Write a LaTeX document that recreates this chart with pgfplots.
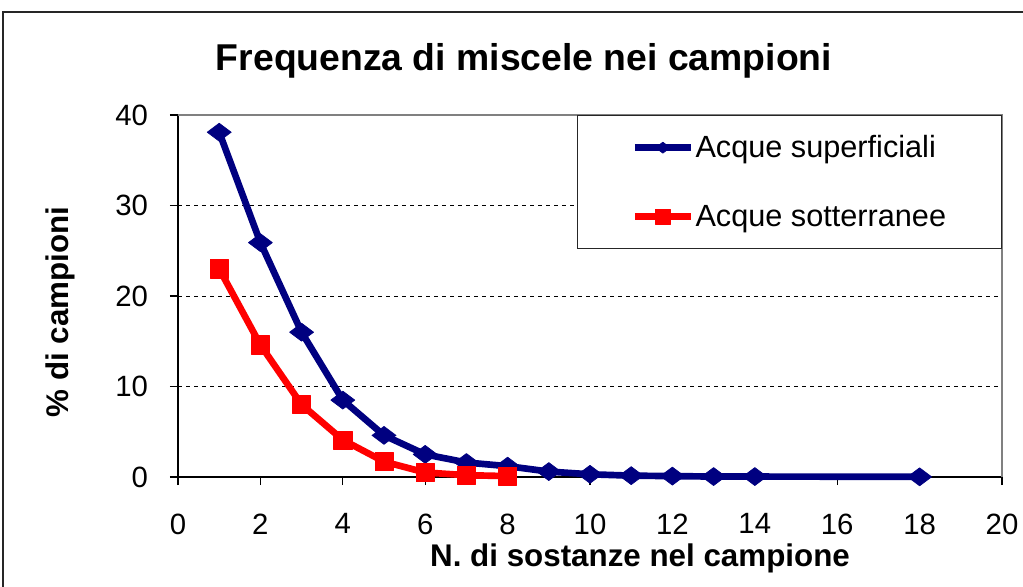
\documentclass[border=0pt]{standalone}
\usepackage{fontspec}
\setmainfont{Liberation Sans}
\usepackage{pgfplots}
\pgfplotsset{compat=1.18}
\definecolor{acqsup}{RGB}{0,0,128}
\definecolor{acqsot}{RGB}{255,0,0}
\begin{document}
\begin{tikzpicture}
% page = 1023 x 586 px at 0.75pt per px
\path[use as bounding box] (0,0) rectangle (767.25pt,-439.5pt);
\draw[line width=1pt,black!85] (3*0.75pt,-600*0.75pt) -- (3*0.75pt,-12*0.75pt) -- (1030*0.75pt,-12*0.75pt);
\node[font=\fontsize{28}{32}\selectfont\bfseries] at (524*0.75pt,-61*0.75pt) {Frequenza di miscele nei campioni};
\begin{axis}[
  at={(133.5pt,-357.75pt)}, anchor=south west,
  scale only axis, width=618pt, height=271.5pt,
  xmin=0, xmax=20, ymin=0, ymax=40,
  xtick={0,2,...,20}, ytick={0,10,...,40},
  axis lines*=left, axis line style={-, line width=0.8pt, black},
  tick align=outside, major tick length=6pt,
  tick style={black, line width=0.8pt},
  ticklabel style={font=\fontsize{22}{26}\selectfont},
  xticklabel style={yshift=-18pt},
  yticklabel style={xshift=-13pt},
  /pgf/number format/assume math mode=true,
  extra y ticks={10,20,30}, extra y tick labels={},
  extra y tick style={grid=major, major tick length=0pt},
  grid style={dashed, black, line width=0.7pt},
  xlabel={N. di sostanze nel campione},
  ylabel={\% di campioni},
  label style={font=\fontsize{23.5}{27}\selectfont\bfseries},
  xlabel style={at={(axis description cs:0.5607,-0.225)}, anchor=center},
  ylabel style={at={(axis description cs:-0.1432,0.456)}, anchor=center},
  legend style={at={(rel axis cs:1,1)}, anchor=north east, draw=black!85, line width=0.8pt,
    font=\fontsize{23}{27}\selectfont, inner xsep=40.5pt, inner ysep=15pt,
    nodes={inner xsep=1pt, inner ysep=0pt}, row sep=34pt},
  legend cell align=left,
  legend image code/.code={\draw[mark repeat=2,mark phase=2,#1,mark size=5.5pt] plot coordinates {(0pt,0pt) (21pt,0pt) (42pt,0pt)};},
  clip=false,
]
\draw[gray, line width=0.8pt] (rel axis cs:0,1) -- (rel axis cs:1,1) -- (rel axis cs:1,0);
\addplot[acqsup, line width=5pt, line join=round, mark=diamond*, mark size=9pt, mark options={solid, rotate=90, line width=0.5pt}]
  coordinates {(1,38.1) (2,25.9) (3,16.0) (4,8.5) (5,4.6) (6,2.5) (7,1.6) (8,1.2) (9,0.6) (10,0.3) (11,0.15) (12,0.1) (13,0.05) (14,0.05) (18,0.02)};
\addlegendentry{Acque superficiali}
\addplot[acqsot, line width=5pt, line join=round, mark=square*, mark size=6.8pt, mark options={solid, line width=0.5pt}]
  coordinates {(1,23.0) (2,14.6) (3,8.0) (4,4.1) (5,1.7) (6,0.5) (7,0.2) (8,0.1)};
\addlegendentry{Acque sotterranee}
\end{axis}
\end{tikzpicture}
\end{document}
